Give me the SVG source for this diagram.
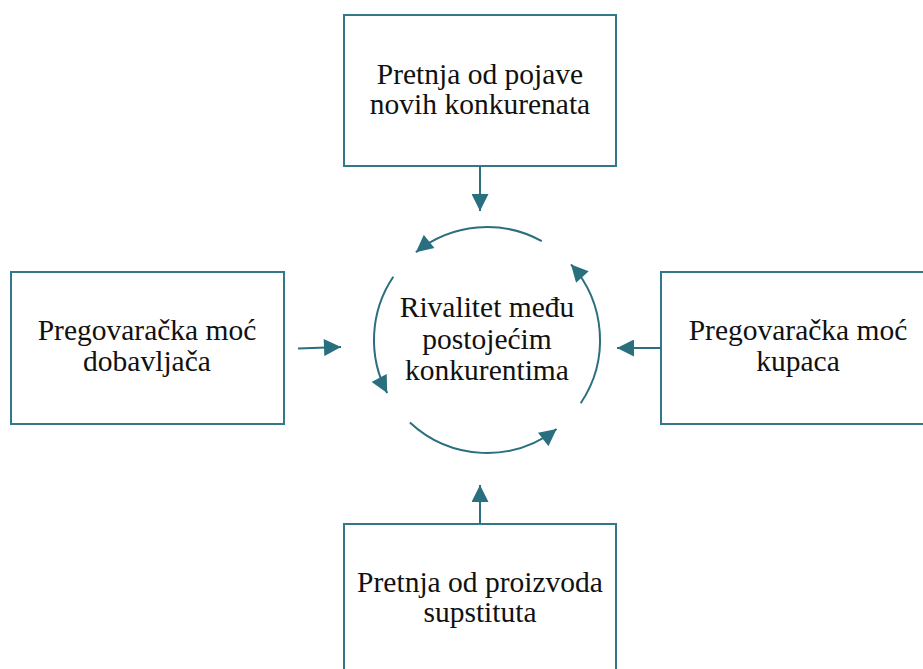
<svg xmlns="http://www.w3.org/2000/svg" width="923" height="669" viewBox="0 0 923 669">
<defs>
<marker id="ah" viewBox="0 0 10 10" refX="10" refY="5" markerUnits="userSpaceOnUse" markerWidth="18" markerHeight="17" orient="auto">
<path d="M0,0 L10,5 L0,10 z" fill="#2A6F80"/>
</marker>
<style>
.box{fill:#fff;stroke:#31788A;stroke-width:2}
.t{font-family:'Liberation Serif',serif;font-size:29.5px;fill:#111;text-anchor:middle}
.c{fill:none;stroke:#2A6F80;stroke-width:2;marker-end:url(#ah)}
</style>
</defs>
<rect width="923" height="669" fill="#fff"/>
<g id="top">
<rect class="box" x="344" y="15" width="272" height="151"/>
<text class="t" x="480" y="84">Pretnja od pojave</text>
<text class="t" x="480" y="114">novih konkurenata</text>
</g>
<g id="left">
<rect class="box" x="11" y="272" width="273" height="152"/>
<text class="t" x="147" y="340">Pregovaračka moć</text>
<text class="t" x="147" y="371">dobavljača</text>
</g>
<g id="right">
<rect class="box" x="661" y="272" width="270" height="152"/>
<text class="t" x="798" y="340">Pregovaračka moć</text>
<text class="t" x="798" y="371">kupaca</text>
</g>
<g id="bottom">
<rect class="box" x="344" y="524" width="272" height="155"/>
<text class="t" x="480" y="592">Pretnja od proizvoda</text>
<text class="t" x="480" y="622">supstituta</text>
</g>
<g id="center">
<text class="t" x="487" y="317">Rivalitet među</text>
<text class="t" x="487" y="349">postojećim</text>
<text class="t" x="487" y="380">konkurentima</text>
</g>
<g id="connectors">
<path class="c" d="M480,166 L480,211"/>
<path class="c" d="M480,524 L480,485"/>
<path class="c" d="M298,348.5 L341,347"/>
<path class="c" d="M661,348 L617,348"/>
<path class="c" d="M541.8,241.2 A113,113 0 0 0 415.9,252.2"/>
<path class="c" d="M393.3,276.8 A113,113 0 0 0 387.2,393"/>
<path class="c" d="M409.9,422.6 A113,113 0 0 0 556.6,429"/>
<path class="c" d="M580.7,403.2 A113,113 0 0 0 571,264.4"/>
</g>
</svg>
